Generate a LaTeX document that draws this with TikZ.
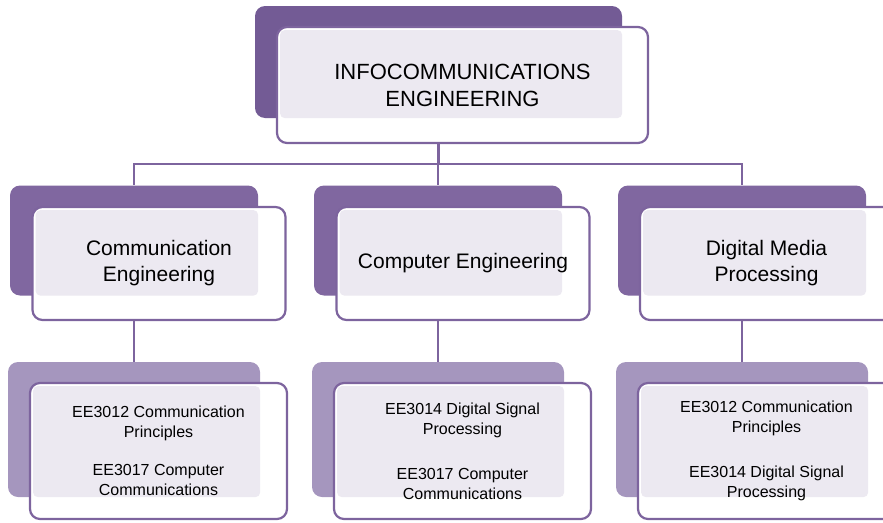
\documentclass[tikz,border=0pt]{standalone}
\usepackage{fontspec}
\setmainfont{Liberation Sans}
\usetikzlibrary{positioning,backgrounds}
\definecolor{plumdark}{RGB}{115,91,149}
\definecolor{plummid}{RGB}{128,103,160}
\definecolor{plumlight}{RGB}{165,150,190}
\definecolor{plumline}{RGB}{125,100,158}
\definecolor{lilac}{RGB}{236,233,241}

\begin{document}
\begin{tikzpicture}[x=1pt,y=-1pt]
    \tikzstyle{every node}=[rectangle,rounded corners=10,inner sep=0,align=center]
    \tikzstyle{back}=[fill=plummid]
    \tikzstyle{front}=[fill=white,draw=plumline,line width=2.2]
    \tikzstyle{link}=[draw=plumline,line width=2.2]
    \tikzset{tinted/.style={path picture={\fill[lilac,rounded corners=5]
        ([xshift=3pt,yshift=-3pt]path picture bounding box.north west) rectangle (#1.south east);}}}
    \tikzstyle{midback}=[back,minimum width=248,minimum height=110]
    \tikzstyle{midfront}=[front,minimum width=253,minimum height=113,font=\fontsize{21}{26}\selectfont]
    \tikzstyle{lowback}=[back,fill=plumlight,minimum width=252,minimum height=135]
    \tikzstyle{lowfront}=[front,minimum width=257,minimum height=136,font=\fontsize{16}{20}\selectfont]

    \useasboundingbox (0,0) rectangle (883,522);
    \clip (0,0) rectangle (883,522);
    {
        % top
        \node[back,fill=plumdark,minimum width=367,minimum height=112] (infobk) at (438.5,62) {};
        \node[front,tinted=infobk,minimum width=371,minimum height=116,font=\fontsize{22}{27}\selectfont] (info) at (462.5,85) {INFOCOMMUNICATIONS\\ENGINEERING};

        % streams
        \node[midback] (commbk) at (134,240.5) {};
        \node[midfront,tinted=commbk] (comm) at (159,263.5) {Communication\\Engineering};
        \node[midback] (compbk) at (438,240.5) {};
        \node[midfront,tinted=compbk] (comp) at (463,263.5) {Computer Engineering};
        \node[midback] (mediabk) at (742,240.5) {};
        \node[midfront,tinted=mediabk] (media) at (766.5,263.5) {Digital Media\\Processing};

        % modules
        \node[lowback] (commmodbk) at (134,429.5) {};
        \node[lowfront,tinted=commmodbk] (commmod) at (158.5,451) {EE3012 Communication\\Principles\\[18pt]EE3017 Computer\\Communications};
        \node[lowback] (compmodbk) at (438,429.5) {};
        \node[lowfront,tinted=compmodbk] (compmod) at (462.5,451) {EE3014 Digital Signal\\Processing\\[25pt]EE3017 Computer\\Communications};
        \node[lowback] (mediamodbk) at (742,429.5) {};
        \node[lowfront,tinted=mediamodbk] (mediamod) at (766.5,451) {EE3012 Communication\\Principles\\[25pt]EE3014 Digital Signal\\Processing};

        \begin{scope}[on background layer]
            \coordinate (bus) at (438.5,164);
            \draw[link] (infobk.south) -- (bus);
            \draw[link] (bus) -| (commbk.north);
            \draw[link] (bus) -| (compbk.north);
            \draw[link] (bus) -| (mediabk.north);
            \draw[link] (commbk.south) -- (commmodbk.north);
            \draw[link] (compbk.south) -- (compmodbk.north);
            \draw[link] (mediabk.south) -- (mediamodbk.north);
        \end{scope}
    }
\end{tikzpicture}
\end{document}
